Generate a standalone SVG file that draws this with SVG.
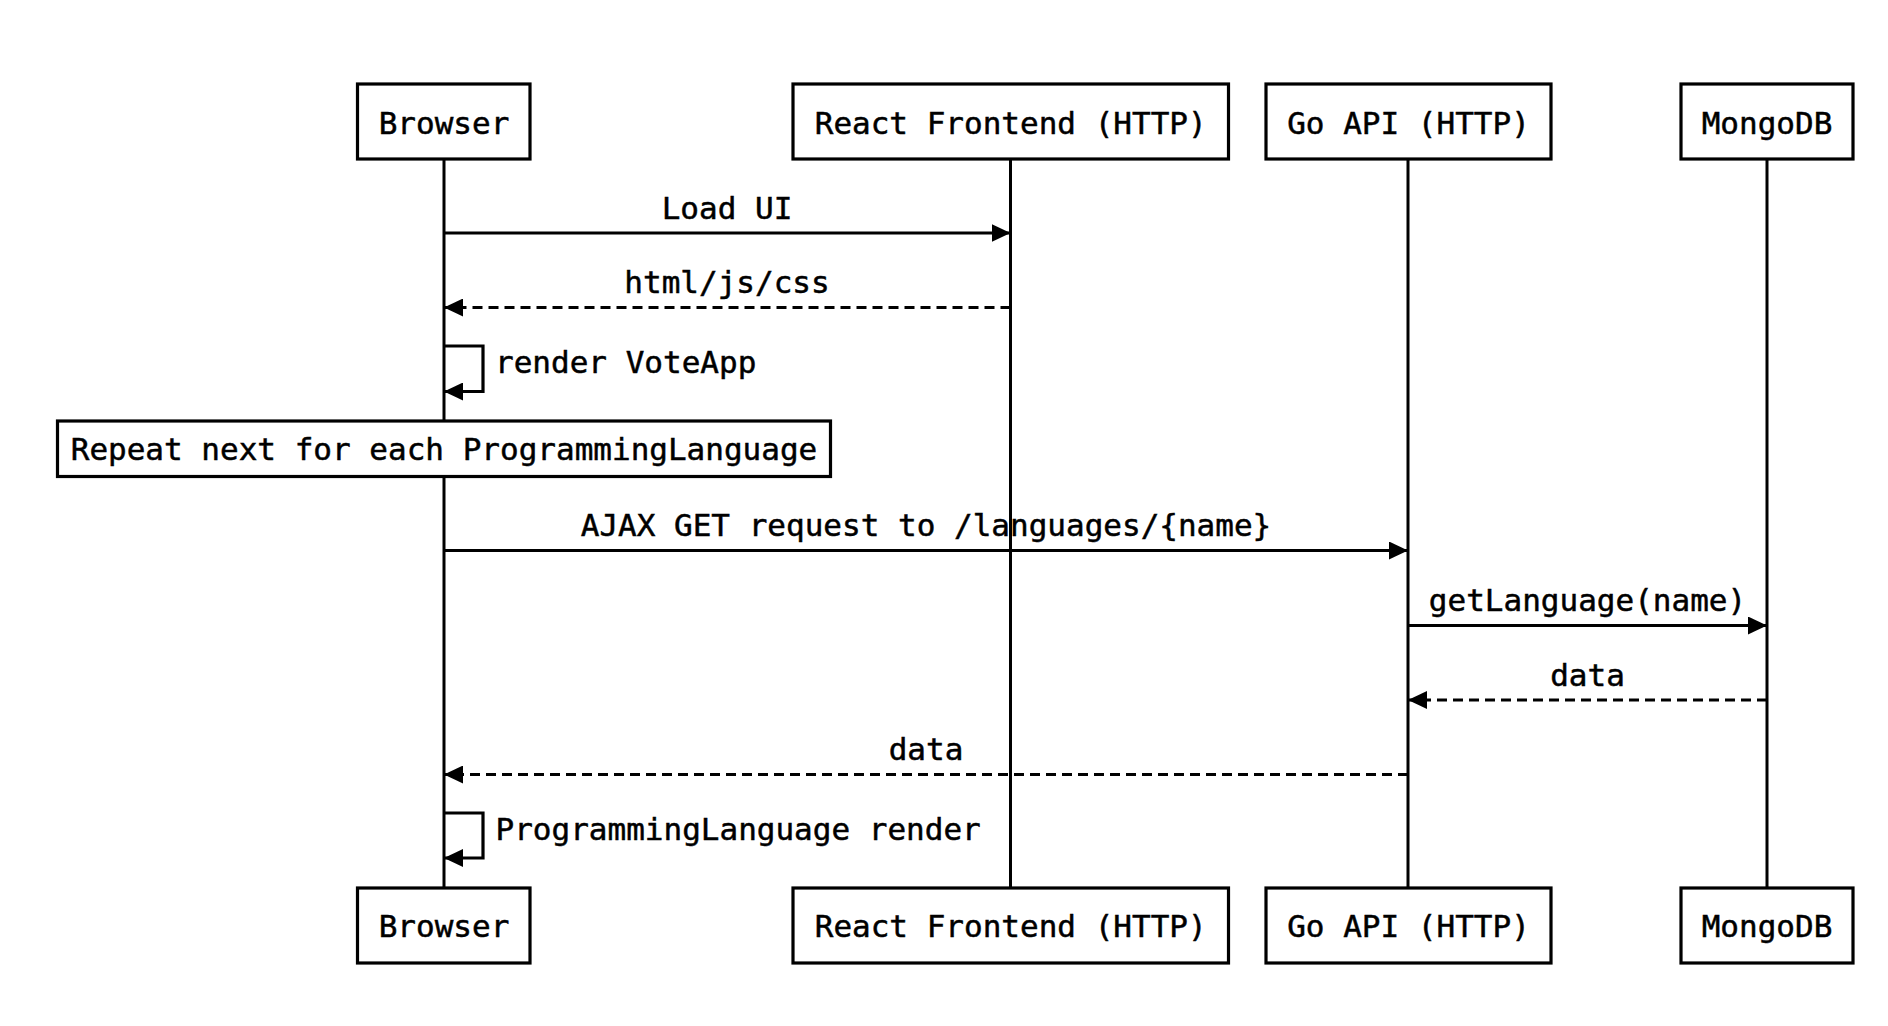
<svg xmlns="http://www.w3.org/2000/svg" width="1888" height="1026" viewBox="0 0 1888 1026">
<style>
text{font-family:"DejaVu Sans Mono","Liberation Mono",monospace;font-size:31px;fill:#000;stroke:#000;stroke-width:0.5}
.mid{text-anchor:middle}
.box{fill:#fff;stroke:#000;stroke-width:3.2}
.life{stroke:#000;stroke-width:3;fill:none}
.msg{stroke:#000;stroke-width:3.2;fill:none}
.dash{stroke-dasharray:10,6}
</style>
<defs>
<marker id="ah" markerUnits="userSpaceOnUse" markerWidth="20" markerHeight="18" refX="19" refY="9" orient="auto">
<path d="M0,0 L19,9 L0,18 z" fill="#000"/>
</marker>
</defs>
<rect width="1888" height="1026" fill="#fff"/>
<g id="lifelines">
<line class="life" x1="444" y1="159" x2="444" y2="888"/>
<line class="life" x1="1010.5" y1="159" x2="1010.5" y2="888"/>
<line class="life" x1="1408" y1="159" x2="1408" y2="888"/>
<line class="life" x1="1767" y1="159" x2="1767" y2="888"/>
</g>
<g id="browser">
<rect class="box" x="357.5" y="84" width="172.5" height="75"/>
<text class="mid" x="444" y="133.5">Browser</text>
<rect class="box" x="357.5" y="888" width="172.5" height="75"/>
<text class="mid" x="444" y="937">Browser</text>
</g>
<g id="react">
<rect class="box" x="793" y="84" width="435.5" height="75"/>
<text class="mid" x="1010.7" y="133.5">React Frontend (HTTP)</text>
<rect class="box" x="793" y="888" width="435.5" height="75"/>
<text class="mid" x="1010.7" y="937">React Frontend (HTTP)</text>
</g>
<g id="goapi">
<rect class="box" x="1266" y="84" width="285" height="75"/>
<text class="mid" x="1408.5" y="133.5">Go API (HTTP)</text>
<rect class="box" x="1266" y="888" width="285" height="75"/>
<text class="mid" x="1408.5" y="937">Go API (HTTP)</text>
</g>
<g id="mongodb">
<rect class="box" x="1681" y="84" width="172" height="75"/>
<text class="mid" x="1767" y="133.5">MongoDB</text>
<rect class="box" x="1681" y="888" width="172" height="75"/>
<text class="mid" x="1767" y="937">MongoDB</text>
</g>
<g id="note">
<rect class="box" x="57.5" y="421" width="773" height="55.5"/>
<text class="mid" x="444" y="459.5">Repeat next for each ProgrammingLanguage</text>
</g>
<g id="connectors">
<line class="msg" x1="444" y1="233" x2="1010.5" y2="233" marker-end="url(#ah)"/>
<text class="mid" x="727" y="218.5">Load UI</text>
<line class="msg dash" x1="1010.5" y1="307.5" x2="444" y2="307.5" marker-end="url(#ah)"/>
<text class="mid" x="727" y="293">html/js/css</text>
<path class="msg" d="M444,346 H483 V391.5 H444" marker-end="url(#ah)"/>
<text x="495" y="373">render VoteApp</text>
<line class="msg" x1="444" y1="550.5" x2="1408" y2="550.5" marker-end="url(#ah)"/>
<text class="mid" x="926" y="536">AJAX GET request to /languages/{name}</text>
<line class="msg" x1="1408" y1="625.5" x2="1767" y2="625.5" marker-end="url(#ah)"/>
<text class="mid" x="1587.5" y="611">getLanguage(name)</text>
<line class="msg dash" x1="1767" y1="700" x2="1408" y2="700" marker-end="url(#ah)"/>
<text class="mid" x="1587.5" y="685.5">data</text>
<line class="msg dash" x1="1408" y1="774.5" x2="444" y2="774.5" marker-end="url(#ah)"/>
<text class="mid" x="926" y="760">data</text>
<path class="msg" d="M444,813 H483 V858 H444" marker-end="url(#ah)"/>
<text x="495.5" y="840">ProgrammingLanguage render</text>
</g>
</svg>
